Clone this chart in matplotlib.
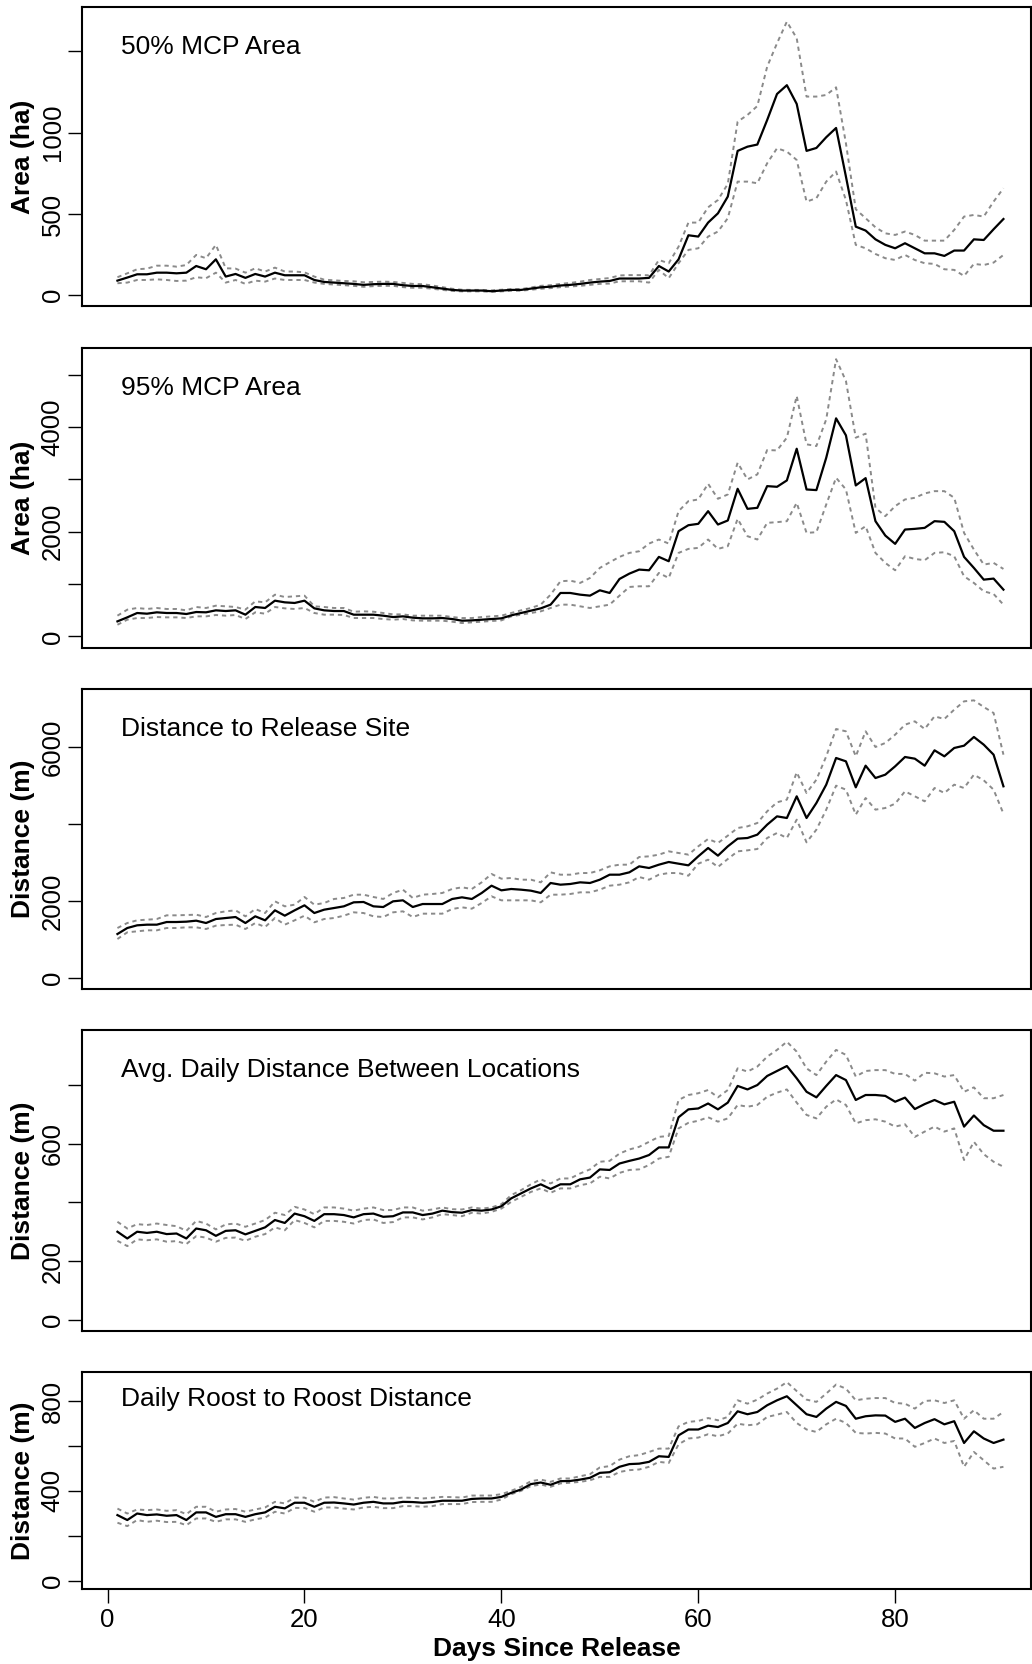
import matplotlib
matplotlib.use('Agg')
import matplotlib.pyplot as plt

plt.rcParams['font.family'] = ['Liberation Sans', 'DejaVu Sans']

days = list(range(1, 92))

# 50% MCP area (ha)
mcp50_mean = [90, 109, 129, 129, 139, 139, 135, 139, 180, 160, 221, 115, 131, 107, 131, 115, 139, 123, 123, 123, 94,
              82, 78, 74, 70, 64, 68, 70, 70, 62, 57, 57, 49, 41, 33, 29, 29, 29, 25, 29, 33, 33, 41, 49, 53, 60, 64,
              70, 78, 84, 88, 103, 103, 103,
              107, 180, 146, 221, 369, 361, 447, 504, 607, 888, 914, 927, 1078, 1238, 1292, 1177, 888, 906, 972, 1029,
              730, 422, 398, 344, 310, 289, 320, 289, 258, 258, 242, 275, 275, 344, 340, 406, 469]
mcp50_hi = [111, 135, 160, 164, 182, 182, 176, 186, 248, 228, 310, 166, 164, 139, 166, 146, 170, 146, 146, 141, 115,
            96, 92, 88, 86, 80, 82, 84, 82, 76, 70, 68, 60, 50, 40, 34, 33, 33, 30, 34, 38, 38, 48, 58, 62, 70, 76,
            84, 94, 100, 106, 122, 124, 124,
            123, 217, 197, 299, 447, 447, 541, 586, 685, 1068, 1109, 1164, 1406, 1550, 1683, 1581, 1222, 1222, 1232,
            1279, 935, 529, 474, 418, 381, 371, 392, 371, 336, 336, 336, 402, 484, 494, 484, 576, 658]
mcp50_lo = [74, 78, 94, 94, 98, 94, 88, 90, 111, 105, 139, 78, 94, 70, 90, 84, 103, 94, 94, 94, 78,
            70, 66, 62, 58, 52, 56, 58, 58, 50, 46, 46, 40, 33, 27, 24, 24, 24, 21, 24, 28, 28, 34, 40, 44, 50, 54,
            58, 64, 70, 72, 86, 86, 86,
            78, 156, 105, 197, 279, 289, 361, 392, 474, 699, 699, 689, 812, 904, 884, 832, 576, 597, 699, 761, 586,
            310, 289, 254, 228, 217, 248, 217, 197, 193, 160, 156, 119, 193, 186, 201, 248]

# 95% MCP area (ha)
mcp95_mean = [287, 364, 447, 434, 460, 447, 447, 428, 466, 460, 498, 485, 498, 415, 562, 543, 683, 651, 639, 683,
              536, 498, 485, 485, 415, 415, 415, 396, 370, 383, 358, 345, 345, 351, 332, 300, 306, 319, 332, 345,
              402, 447, 492, 536, 607, 830, 830, 798, 779, 881, 830, 1098, 1200, 1277, 1264, 1520, 1437, 2011, 2126,
              2152, 2394, 2139, 2216, 2822, 2439, 2458, 2873, 2860, 2982, 3588, 2809, 2797, 3416, 4169, 3844, 2886,
              3026, 2203, 1928, 1769, 2043, 2056, 2075, 2203, 2190, 2011, 1520, 1309, 1085, 1105, 894]
mcp95_hi = [396, 511, 543, 524, 543, 524, 524, 498, 562, 543, 587, 575, 562, 511, 670, 651, 798, 753, 766, 779,
            575, 562, 543, 543, 472, 479, 472, 447, 421, 421, 396, 396, 396, 396, 370, 351, 351, 370, 383, 396,
            447, 498, 543, 607, 798, 1054, 1066, 1022, 1117, 1309, 1417, 1520, 1596, 1628, 1775, 1852, 1775, 2394,
            2586, 2618, 2918, 2631, 2714, 3320, 3001, 3097, 3563, 3556, 3799, 4597, 3672, 3640, 4150, 5300, 4884,
            3799, 3876, 2458, 2299, 2490, 2618, 2650, 2733, 2777, 2777, 2650, 1979, 1660, 1373, 1405, 1290]
mcp95_lo = [223, 319, 351, 351, 370, 364, 364, 351, 383, 383, 409, 396, 409, 332, 460, 434, 562, 536, 524, 543,
            447, 415, 415, 409, 351, 351, 351, 332, 319, 332, 306, 300, 300, 300, 281, 255, 268, 281, 294, 306,
            383, 415, 447, 479, 543, 607, 607, 575, 543, 575, 607, 779, 945, 958, 958, 1213, 1117, 1596, 1673, 1692,
            1852, 1673, 1724, 2248, 1916, 1852, 2171, 2184, 2203, 2554, 1979, 1992, 2522, 3033, 2809, 1979, 2107,
            1596, 1405, 1264, 1532, 1481, 1456, 1596, 1609, 1532, 1149, 1022, 862, 811, 607]

# distance to release site (m)
rel_mean = [1144, 1300, 1370, 1387, 1387, 1456, 1456, 1465, 1491, 1430, 1534, 1560, 1586, 1430, 1604, 1500, 1760,
            1621, 1760, 1890, 1690, 1777, 1820, 1864, 1968, 1977, 1864, 1846, 1994, 2020, 1846, 1924, 1924, 1924,
            2055, 2098, 2055, 2211, 2401, 2280,
            2315, 2297, 2271, 2211, 2471, 2427, 2445, 2488, 2471, 2557, 2687, 2687, 2748, 2904, 2861, 2947, 3017,
            2973, 2930, 3164, 3381, 3182, 3424, 3624, 3641, 3728, 3988, 4204, 4161, 4725, 4161, 4551, 5028, 5722,
            5635, 4959, 5522, 5201, 5288, 5505, 5748, 5704, 5522, 5921, 5765, 5982, 6042, 6268, 6068, 5808, 4985]
rel_hi = [1300, 1430, 1500, 1517, 1534, 1630, 1630, 1638, 1647, 1586, 1690, 1734, 1760, 1604, 1794, 1690, 1994,
          1864, 1907, 2107, 1907, 1950, 2055, 2081, 2167, 2167, 2107, 2055, 2211, 2297, 2081, 2167, 2185, 2211,
          2315, 2358, 2315, 2488, 2705, 2583,
          2601, 2557, 2557, 2488, 2748, 2687, 2687, 2730, 2730, 2800, 2904, 2947, 2947, 3147, 3164, 3208, 3294,
          3251, 3208, 3424, 3615, 3511, 3702, 3901, 3944, 4031, 4335, 4569, 4638, 5349, 4811, 5158, 5765, 6476,
          6415, 5765, 6415, 6008, 6112, 6328, 6588, 6675, 6476, 6805, 6736, 6979, 7195, 7221, 7048, 6892, 5808]
rel_lo = [1014, 1188, 1214, 1240, 1240, 1300, 1300, 1318, 1318, 1274, 1361, 1378, 1387, 1274, 1430, 1326, 1560,
          1387, 1500, 1621, 1448, 1534, 1560, 1621, 1708, 1690, 1604, 1586, 1708, 1734, 1586, 1673, 1673, 1673,
          1794, 1838, 1803, 1950, 2124, 2020,
          2020, 2020, 2020, 1968, 2167, 2167, 2185, 2228, 2228, 2297, 2401, 2427, 2488, 2627, 2557, 2687, 2730,
          2730, 2661, 2973, 3077, 2887, 3095, 3294, 3320, 3355, 3641, 3771, 3641, 4118, 3528, 3858, 4378, 5002,
          4898, 4248, 4681, 4378, 4421, 4534, 4855, 4725, 4595, 4941, 4811, 5028, 4941, 5288, 5141, 4898, 4274]

# avg. daily distance between locations (m)
avg_mean = [300, 277, 300, 296, 300, 292, 294, 277, 311, 305, 286, 303, 305, 291, 303, 315, 340, 330, 362, 353,
            337, 360, 360, 357, 349, 360, 362, 351, 353, 366, 366, 357, 362, 372, 367, 365, 374, 372, 376, 387,
            414, 431, 448, 462, 446, 462, 462, 479, 485, 513, 511, 533, 542, 550, 562, 588, 588, 691, 718, 721,
            738, 718, 741, 798, 786, 801, 832, 849, 866, 824, 778, 759, 798, 835, 818, 750, 767, 767, 764, 744,
            758, 719, 736, 750, 735, 744, 659, 697, 664, 645, 645]
avg_hi = [334, 311, 326, 323, 328, 323, 319, 303, 337, 328, 308, 325, 328, 317, 328, 340, 365, 357, 385, 376,
          360, 383, 383, 379, 372, 379, 383, 374, 374, 383, 383, 372, 376, 383, 377, 376, 383, 379, 383, 394,
          425, 442, 462, 479, 465, 482, 482, 499, 513, 539, 542, 567, 581, 590, 607, 624, 627, 750, 767, 773,
          784, 759, 784, 858, 847, 864, 898, 921, 949, 915, 858, 835, 881, 921, 904, 830, 849, 852, 852, 839,
          839, 816, 843, 841, 830, 835, 778, 793, 756, 756, 767]
avg_lo = [269, 251, 274, 271, 274, 266, 268, 258, 285, 280, 266, 279, 280, 269, 283, 292, 315, 305, 340, 330,
          315, 337, 337, 334, 328, 340, 342, 330, 333, 349, 349, 342, 349, 360, 357, 353, 365, 362, 368, 379,
          402, 419, 436, 448, 433, 448, 448, 459, 465, 488, 482, 501, 511, 513, 528, 550, 556, 653, 672, 679,
          691, 676, 687, 733, 727, 733, 761, 775, 786, 741, 699, 687, 727, 752, 733, 670, 681, 684, 676, 659,
          667, 624, 642, 659, 642, 653, 545, 607, 565, 539, 522]

# daily roost to roost distance (m)
roost_mean = [292, 270, 299, 292, 295, 289, 292, 270, 304, 304, 284, 296, 296, 284, 296, 304, 329, 322, 347, 347,
              329, 347, 348, 344, 339, 347, 351, 344, 344, 351, 350, 347, 350, 356, 356, 356, 364, 366, 366, 373,
              391, 406, 430, 437, 427, 443, 444, 450, 458, 480, 483, 507, 519, 521, 529, 554, 551, 647, 673, 673,
              690, 684, 702, 754, 741, 751, 781, 803, 821, 781, 741, 729, 766, 796, 778, 721, 732, 736, 735, 707,
              721, 680, 702, 719, 696, 710, 613, 665, 633, 613, 628]
roost_hi = [321, 299, 317, 314, 317, 311, 314, 296, 329, 329, 307, 317, 319, 307, 317, 326, 351, 344, 370, 370,
            351, 370, 372, 366, 361, 369, 373, 366, 366, 370, 369, 366, 369, 373, 372, 370, 379, 379, 379, 385,
            400, 418, 443, 450, 440, 455, 455, 465, 474, 504, 510, 539, 554, 559, 573, 588, 588, 687, 707, 711,
            724, 714, 729, 803, 788, 806, 833, 855, 884, 844, 806, 796, 833, 873, 855, 803, 810, 813, 813, 791,
            788, 766, 800, 803, 791, 803, 721, 759, 721, 721, 751]
roost_lo = [258, 243, 270, 262, 267, 261, 262, 247, 277, 277, 262, 273, 273, 262, 273, 281, 307, 299, 324, 324,
            307, 326, 326, 321, 317, 326, 329, 323, 323, 332, 332, 329, 332, 341, 341, 341, 350, 351, 351, 361,
            385, 400, 421, 428, 418, 433, 436, 440, 447, 462, 462, 484, 492, 495, 507, 529, 524, 607, 633, 637,
            652, 643, 655, 699, 692, 696, 729, 739, 751, 702, 673, 662, 696, 721, 702, 658, 655, 658, 655, 633,
            633, 596, 613, 633, 613, 622, 507, 573, 536, 499, 507]

titles = ['50% MCP Area', '95% MCP Area', 'Distance to Release Site',
          'Avg. Daily Distance Between Locations', 'Daily Roost to Roost Distance']
ylabels = ['Area (ha)', 'Area (ha)', 'Distance (m)', 'Distance (m)', 'Distance (m)']
yticks = [[0, 500, 1000, 1500], [0, 1000, 2000, 3000, 4000, 5000], [0, 2000, 4000, 6000],
          [0, 200, 400, 600, 800], [0, 200, 400, 600, 800]]
yticklabels = [['0', '500', '1000', ''], ['0', '', '2000', '', '4000', ''], ['0', '2000', '', '6000'],
               ['0', '200', '', '600', ''], ['0', '', '400', '', '800']]
ylims = [(-66, 1773), (-222, 5514), (-286, 7516), (-39, 989), (-37, 929)]
xticks = [0, 20, 40, 60, 80]

means = [mcp50_mean, mcp95_mean, rel_mean, avg_mean, roost_mean]
his = [mcp50_hi, mcp95_hi, rel_hi, avg_hi, roost_hi]
los = [mcp50_lo, mcp95_lo, rel_lo, avg_lo, roost_lo]

W, H = 1032, 1664
# axes boxes in pixels: (top, bottom)
boxes = [(7, 306), (348, 648), (689, 989), (1030, 1331), (1372, 1589)]
left_px, right_px = 82, 1031

fig = plt.figure(figsize=(W / 100, H / 100), dpi=100)

for i in range(5):
    top, bot = boxes[i]
    ax = fig.add_axes([left_px / W, 1 - bot / H, (right_px - left_px) / W, (bot - top) / H])
    ax.plot(days, his[i], color='#8a8a8a', lw=1.4, linestyle=(0, (2.2, 2.0)))
    ax.plot(days, los[i], color='#8a8a8a', lw=1.4, linestyle=(0, (2.2, 2.0)))
    ax.plot(days, means[i], color='black', lw=1.6)
    ax.set_xlim(-2.6, 93.8)
    ax.set_ylim(*ylims[i])
    ax.set_yticks(yticks[i])
    ax.set_yticklabels(yticklabels[i], rotation=90, va='center', fontsize=18.5)
    ax.tick_params(axis='y', length=10, width=1.0, pad=2.5)
    for s in ax.spines.values():
        s.set_linewidth(1.5)
    ax.set_ylabel(ylabels[i], fontsize=19, fontweight='bold', va='center')
    ax.yaxis.set_label_coords(-59 / (right_px - left_px), 0.5)
    ax.text(39 / (right_px - left_px), 1 - (40 if i < 4 else 27) / (bot - top), titles[i],
            transform=ax.transAxes, fontsize=19, va='center', ha='left')
    if i == 4:
        ax.set_xticks(xticks)
        ax.tick_params(axis='x', length=10, width=1.0, pad=3.5, labelsize=18.5)
        ax.set_xlabel('Days Since Release', fontsize=19, fontweight='bold', labelpad=4)
    else:
        ax.set_xticks([])

fig.savefig('out.png', dpi=100)
